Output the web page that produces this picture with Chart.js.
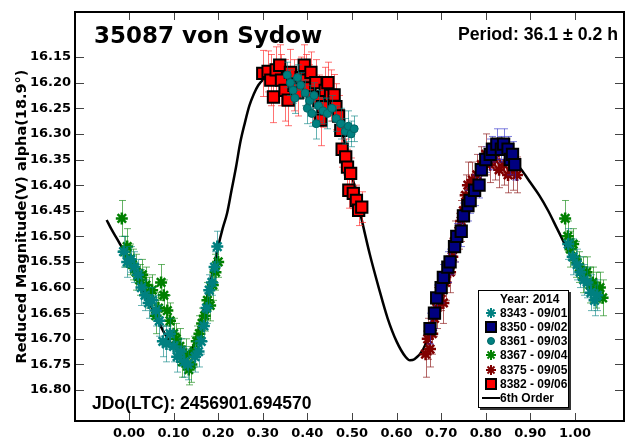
<!DOCTYPE html>
<html>
<head>
<meta charset="utf-8">
<script src="https://cdn.jsdelivr.net/npm/chart.js@4.4.1/dist/chart.umd.min.js"></script>
<style>
  body { margin: 0; background: #fff; }
  #wrap { position: relative; width: 634px; height: 438px; overflow: hidden; }
  #lc { position: absolute; left: 0; top: 0; }
  .note { position: absolute; font-weight: bold; color: #000; line-height: 1; white-space: nowrap; }
  #title { left: 94px; top: 24px; font-family: "DejaVu Sans"; font-size: 23px; }
  #period { right: 16px; top: 26px; font-family: "Liberation Sans"; font-size: 17.7px; }
  #jdo { left: 92px; top: 395px; font-family: "Liberation Sans"; font-size: 17.5px; }
  #legend { position: absolute; left: 478px; top: 290px; width: 89px; height: 116px; background: #fff;
            border: 1px solid #000; box-shadow: 2px 2px 0 #333; font-family: "Liberation Sans"; font-weight: bold; font-size: 12px; }
  #legend .row { position: absolute; left: 0; height: 14px; line-height: 14px; width: 89px; }
  #legend .row span { position: absolute; left: 21px; top: 0; white-space: nowrap; }
  #legend .row svg { position: absolute; left: 5px; top: 1px; }
</style>
</head>
<body>
<div id="wrap">
  <canvas id="lc" width="634" height="438"></canvas>
  <div class="note" id="title">35087 von Sydow</div>
  <div class="note" id="period">Period: 36.1 ± 0.2 h</div>
  <div class="note" id="jdo">JDo(LTC): 2456901.694570</div>
  <div id="legend"></div>
</div>
<script>
// axis ticks
const xTicks = [0.0, 0.1, 0.2, 0.3, 0.4, 0.5, 0.6, 0.7, 0.8, 0.9, 1.0];
const yTicks = [16.15, 16.20, 16.25, 16.30, 16.35, 16.40, 16.45, 16.50, 16.55, 16.60, 16.65, 16.70, 16.75, 16.80];

const legendTitle = 'Year: 2014';
const sessions = ['8343 - 09/01', '8350 - 09/02', '8361 - 09/03', '8367 - 09/04', '8375 - 09/05', '8382 - 09/06'];
const fitLabel = '6th Order';

// 8343 - 09/01
const ph8343 = [-0.012, -0.004, 0.004, 0.012, 0.02, 0.028, 0.036, 0.044, 0.052, 0.06, 0.068, 0.076, 0.084, 0.092, 0.1, 0.108, 0.116, 0.124, 0.132, 0.148, 0.156, 0.162, 0.168, 0.174, 0.18, 0.186, 0.192, 0.198, 0.985, 0.995, 1.005, 1.012, 1.02, 1.028, 1.036, 1.044, 1.05];
const mag8343 = [16.53, 16.55, 16.545, 16.56, 16.575, 16.60, 16.615, 16.63, 16.625, 16.645, 16.665, 16.705, 16.71, 16.69, 16.715, 16.735, 16.725, 16.745, 16.75, 16.735, 16.725, 16.705, 16.675, 16.64, 16.605, 16.59, 16.56, 16.52, 16.515, 16.54, 16.555, 16.57, 16.585, 16.59, 16.61, 16.625, 16.615];
const err8343 = [0.03, 0.03, 0.025, 0.03, 0.03, 0.035, 0.03, 0.03, 0.025, 0.03, 0.03, 0.03, 0.035, 0.03, 0.03, 0.03, 0.025, 0.03, 0.03, 0.03, 0.03, 0.025, 0.03, 0.03, 0.03, 0.025, 0.03, 0.03, 0.03, 0.035, 0.03, 0.03, 0.03, 0.03, 0.035, 0.03, 0.03];

// 8350 - 09/02
const ph8350 = [0.675, 0.685, 0.69, 0.70, 0.705, 0.715, 0.72, 0.73, 0.735, 0.745, 0.75, 0.76, 0.765, 0.775, 0.785, 0.79, 0.80, 0.81, 0.815, 0.825, 0.835, 0.84, 0.85, 0.855, 0.86, 0.865];
const mag8350 = [16.68, 16.65, 16.62, 16.60, 16.58, 16.56, 16.55, 16.52, 16.50, 16.49, 16.46, 16.44, 16.43, 16.41, 16.40, 16.37, 16.35, 16.34, 16.33, 16.32, 16.33, 16.32, 16.33, 16.35, 16.34, 16.36];
const err8350 = [0.03, 0.03, 0.025, 0.03, 0.025, 0.03, 0.025, 0.03, 0.025, 0.03, 0.025, 0.03, 0.025, 0.03, 0.025, 0.03, 0.025, 0.03, 0.025, 0.03, 0.025, 0.03, 0.025, 0.03, 0.025, 0.03];

// 8361 - 09/03
const ph8361 = [0.355, 0.362, 0.368, 0.372, 0.378, 0.385, 0.395, 0.40, 0.405, 0.41, 0.415, 0.42, 0.425, 0.435, 0.445, 0.455, 0.465, 0.475, 0.485, 0.492, 0.498, 0.505];
const mag8361 = [16.185, 16.20, 16.215, 16.23, 16.19, 16.205, 16.22, 16.25, 16.235, 16.26, 16.225, 16.28, 16.245, 16.255, 16.26, 16.25, 16.27, 16.28, 16.295, 16.285, 16.30, 16.29];
const err8361 = [0.025, 0.025, 0.025, 0.03, 0.025, 0.025, 0.025, 0.03, 0.03, 0.025, 0.025, 0.03, 0.03, 0.025, 0.03, 0.025, 0.025, 0.03, 0.025, 0.03, 0.025, 0.025];

// 8367 - 09/04
const ph8367 = [-0.016, -0.01, -0.004, 0.002, 0.008, 0.016, 0.024, 0.03, 0.038, 0.046, 0.052, 0.06, 0.066, 0.072, 0.078, 0.086, 0.092, 0.1, 0.106, 0.114, 0.12, 0.128, 0.134, 0.14, 0.146, 0.152, 0.158, 0.164, 0.17, 0.176, 0.182, 0.188, 0.194, 0.2, 0.978, 0.984, 0.99, 0.996, 1.002, 1.01, 1.018, 1.026, 1.034, 1.04, 1.048, 1.056, 1.062];
const mag8367 = [16.465, 16.53, 16.52, 16.545, 16.555, 16.57, 16.585, 16.575, 16.595, 16.61, 16.605, 16.655, 16.64, 16.59, 16.615, 16.645, 16.665, 16.69, 16.70, 16.715, 16.745, 16.73, 16.76, 16.75, 16.725, 16.705, 16.69, 16.67, 16.655, 16.625, 16.635, 16.595, 16.57, 16.55, 16.465, 16.50, 16.525, 16.515, 16.545, 16.56, 16.575, 16.57, 16.595, 16.59, 16.605, 16.60, 16.62];
const err8367 = [0.035, 0.03, 0.035, 0.03, 0.03, 0.035, 0.03, 0.03, 0.035, 0.03, 0.03, 0.035, 0.03, 0.035, 0.03, 0.03, 0.035, 0.03, 0.03, 0.035, 0.03, 0.03, 0.03, 0.035, 0.03, 0.03, 0.035, 0.03, 0.03, 0.035, 0.03, 0.03, 0.035, 0.03, 0.035, 0.03, 0.035, 0.03, 0.035, 0.03, 0.035, 0.03, 0.035, 0.03, 0.035, 0.03, 0.035];

// 8375 - 09/05
const ph8375 = [0.665, 0.67, 0.675, 0.68, 0.685, 0.69, 0.70, 0.705, 0.71, 0.72, 0.725, 0.73, 0.74, 0.745, 0.75, 0.755, 0.76, 0.77, 0.78, 0.79, 0.80, 0.81, 0.82, 0.83, 0.84, 0.85, 0.86, 0.87];
const mag8375 = [16.73, 16.70, 16.72, 16.69, 16.66, 16.64, 16.61, 16.63, 16.59, 16.57, 16.54, 16.51, 16.49, 16.47, 16.45, 16.42, 16.40, 16.39, 16.38, 16.36, 16.34, 16.36, 16.35, 16.37, 16.36, 16.38, 16.37, 16.38];
const err8375 = [0.045, 0.04, 0.035, 0.04, 0.035, 0.04, 0.035, 0.04, 0.035, 0.04, 0.035, 0.04, 0.035, 0.04, 0.035, 0.04, 0.045, 0.035, 0.04, 0.035, 0.04, 0.035, 0.04, 0.035, 0.04, 0.035, 0.04, 0.035];

// 8382 - 09/06
const ph8382 = [0.300, 0.312, 0.318, 0.324, 0.330, 0.338, 0.342, 0.350, 0.357, 0.362, 0.370, 0.378, 0.386, 0.393, 0.397, 0.403, 0.408, 0.412, 0.419, 0.425, 0.430, 0.434, 0.440, 0.446, 0.452, 0.460, 0.464, 0.470, 0.475, 0.478, 0.486, 0.490, 0.493, 0.497, 0.503, 0.510, 0.515, 0.522];
const mag8382 = [16.182, 16.178, 16.195, 16.228, 16.175, 16.166, 16.195, 16.215, 16.234, 16.180, 16.205, 16.22, 16.19, 16.166, 16.195, 16.21, 16.18, 16.228, 16.20, 16.235, 16.273, 16.247, 16.215, 16.20, 16.225, 16.224, 16.247, 16.265, 16.293, 16.33, 16.345, 16.365, 16.41, 16.377, 16.416, 16.43, 16.449, 16.443];
const err8382 = [0.045, 0.04, 0.05, 0.05, 0.045, 0.04, 0.05, 0.06, 0.05, 0.045, 0.05, 0.045, 0.04, 0.04, 0.05, 0.045, 0.04, 0.05, 0.045, 0.05, 0.05, 0.04, 0.045, 0.04, 0.05, 0.04, 0.045, 0.04, 0.04, 0.035, 0.035, 0.035, 0.035, 0.03, 0.03, 0.03, 0.03, 0.03];

// 6th order fit
const fitPh = [-0.05, -0.04, -0.03, -0.02, -0.01, 0.0, 0.02, 0.04, 0.06, 0.08, 0.10, 0.12, 0.13, 0.14, 0.15, 0.16, 0.17, 0.18, 0.19, 0.20, 0.21, 0.22, 0.23, 0.24, 0.25, 0.26, 0.27, 0.28, 0.29, 0.30, 0.32, 0.34, 0.36, 0.38, 0.40, 0.42, 0.44, 0.46, 0.48, 0.50, 0.52, 0.54, 0.56, 0.58, 0.60, 0.62, 0.63, 0.64, 0.66, 0.68, 0.70, 0.72, 0.74, 0.76, 0.78, 0.80, 0.82, 0.84, 0.86, 0.88, 0.90, 0.92, 0.94, 0.96, 0.98, 1.00, 1.02, 1.04, 1.05];
const fitMag = [16.468, 16.485, 16.50, 16.515, 16.53, 16.55, 16.585, 16.62, 16.655, 16.69, 16.715, 16.73, 16.732, 16.722, 16.70, 16.67, 16.635, 16.60, 16.56, 16.52, 16.485, 16.455, 16.41, 16.365, 16.315, 16.278, 16.245, 16.222, 16.205, 16.195, 16.185, 16.18, 16.182, 16.19, 16.20, 16.215, 16.235, 16.265, 16.305, 16.38, 16.46, 16.535, 16.60, 16.66, 16.705, 16.735, 16.742, 16.74, 16.72, 16.675, 16.615, 16.55, 16.485, 16.43, 16.385, 16.355, 16.34, 16.34, 16.35, 16.37, 16.395, 16.42, 16.45, 16.485, 16.52, 16.555, 16.585, 16.605, 16.615];

function pts(ph, mag) {
  return ph.map((p, i) => ({ x: p, y: mag[i] }));
}

// error bars, drawn just under each dataset's markers
const errorBars = {
  id: 'errorBars',
  beforeDatasetDraw(chart, args) {
    const ds = chart.data.datasets[args.index];
    if (!ds.errors) return;
    const ctx = chart.ctx;
    const xs = chart.scales.x, ys = chart.scales.y;
    ctx.save();
    ctx.strokeStyle = ds.errorColor;
    ctx.lineWidth = 1;
    ds.data.forEach((p, i) => {
      const e = ds.errors[i];
      const px = Math.round(xs.getPixelForValue(p.x)) + 0.5;
      const t = ys.getPixelForValue(p.y - e);
      const b = ys.getPixelForValue(p.y + e);
      ctx.beginPath();
      ctx.moveTo(px, t); ctx.lineTo(px, b);
      ctx.moveTo(px - 3.5, t); ctx.lineTo(px + 3.5, t);
      ctx.moveTo(px - 3.5, b); ctx.lineTo(px + 3.5, b);
      ctx.stroke();
    });
    ctx.restore();
  }
};

// frame with inward ticks on all four sides
const frame = {
  id: 'frame',
  afterDraw(chart) {
    const ctx = chart.ctx;
    const a = chart.chartArea;
    const xs = chart.scales.x, ys = chart.scales.y;
    ctx.save();
    ctx.strokeStyle = '#444';
    ctx.lineWidth = 1;
    ctx.beginPath();
    xTicks.forEach(v => {
      const px = Math.round(xs.getPixelForValue(v)) + 0.5;
      ctx.moveTo(px, a.bottom); ctx.lineTo(px, a.bottom - 8);
      ctx.moveTo(px, a.top); ctx.lineTo(px, a.top + 8);
    });
    yTicks.forEach(v => {
      const py = Math.round(ys.getPixelForValue(v)) + 0.5;
      ctx.moveTo(a.left, py); ctx.lineTo(a.left + 9, py);
      ctx.moveTo(a.right, py); ctx.lineTo(a.right - 9, py);
    });
    ctx.stroke();
    ctx.strokeStyle = '#000';
    ctx.lineWidth = 2;
    ctx.strokeRect(a.left, a.top, a.right - a.left, a.bottom - a.top);
    ctx.restore();
  }
};

const tickFont = { family: 'DejaVu Sans', weight: 'bold', size: 13 };

new Chart(document.getElementById('lc').getContext('2d'), {
  type: 'scatter',
  data: {
    datasets: [
      { label: sessions[0], data: pts(ph8343, mag8343), errors: err8343, errorColor: 'rgba(0,128,128,0.6)',
        pointStyle: 'star', pointRadius: 6, pointBorderWidth: 2.5, pointBorderColor: '#008080', pointBackgroundColor: '#008080' },
      { label: sessions[1], data: pts(ph8350, mag8350), errors: err8350, errorColor: 'rgba(40,40,200,0.6)',
        pointStyle: 'rect', pointRadius: 8, pointBorderWidth: 2, pointBorderColor: '#000', pointBackgroundColor: '#000080' },
      { label: sessions[2], data: pts(ph8361, mag8361), errors: err8361, errorColor: 'rgba(0,128,128,0.6)',
        pointStyle: 'circle', pointRadius: 4, pointBorderWidth: 1, pointBorderColor: '#006666', pointBackgroundColor: '#008080' },
      { label: sessions[3], data: pts(ph8367, mag8367), errors: err8367, errorColor: 'rgba(0,128,0,0.6)',
        pointStyle: 'star', pointRadius: 6, pointBorderWidth: 2.5, pointBorderColor: '#008000', pointBackgroundColor: '#008000' },
      { label: sessions[4], data: pts(ph8375, mag8375), errors: err8375, errorColor: 'rgba(128,0,0,0.6)',
        pointStyle: 'star', pointRadius: 6, pointBorderWidth: 2.5, pointBorderColor: '#800000', pointBackgroundColor: '#800000' },
      { label: sessions[5], data: pts(ph8382, mag8382), errors: err8382, errorColor: 'rgba(255,40,40,0.65)',
        pointStyle: 'rect', pointRadius: 8, pointBorderWidth: 2, pointBorderColor: '#000', pointBackgroundColor: '#ff0000' },
      { label: fitLabel, data: pts(fitPh, fitMag), showLine: true, pointRadius: 0, borderColor: '#000', borderWidth: 2.5,
        cubicInterpolationMode: 'monotone', order: 10 }
    ]
  },
  options: {
    responsive: false,
    animation: false,
    layout: { padding: { top: 12, right: 2, left: 0, bottom: 0 } },
    plugins: { legend: { display: false }, tooltip: { enabled: false } },
    scales: {
      x: {
        type: 'linear', min: -0.121, max: 1.110,
        grid: { display: false, drawTicks: false }, border: { display: false },
        afterBuildTicks: s => { s.ticks = xTicks.map(v => ({ value: v })); },
        afterFit: s => { s.height = 17; },
        ticks: { font: tickFont, color: '#000', padding: 5, maxRotation: 0, autoSkip: false,
                 callback: v => Number(v).toFixed(2) }
      },
      y: {
        type: 'linear', reverse: true, min: 16.062, max: 16.8605,
        grid: { display: false, drawTicks: false }, border: { display: false },
        afterBuildTicks: s => { s.ticks = yTicks.map(v => ({ value: v })); },
        afterFit: s => { s.width = 75; },
        ticks: { font: tickFont, color: '#000', padding: 4, autoSkip: false,
                 callback: v => Number(v).toFixed(2) },
        title: { display: true, text: 'Reduced Magnitude(V) alpha(18.9°)', color: '#000',
                 font: { family: 'DejaVu Sans', weight: 'bold', size: 14.5 }, padding: { top: 14, bottom: 0 } }
      }
    }
  },
  plugins: [errorBars, frame]
});

// legend box
const icons = [
  '<svg width="14" height="12"><g stroke="#008080" stroke-width="2"><line x1="2" y1="6" x2="12" y2="6"/><line x1="7" y1="1" x2="7" y2="11"/><line x1="3.5" y1="2.5" x2="10.5" y2="9.5"/><line x1="3.5" y1="9.5" x2="10.5" y2="2.5"/></g></svg>',
  '<svg width="14" height="12"><rect x="2" y="1" width="10" height="10" fill="#000080" stroke="#000" stroke-width="2"/></svg>',
  '<svg width="14" height="12"><circle cx="7" cy="6" r="3.5" fill="#008080" stroke="#006666"/></svg>',
  '<svg width="14" height="12"><g stroke="#008000" stroke-width="2"><line x1="2" y1="6" x2="12" y2="6"/><line x1="7" y1="1" x2="7" y2="11"/><line x1="3.5" y1="2.5" x2="10.5" y2="9.5"/><line x1="3.5" y1="9.5" x2="10.5" y2="2.5"/></g></svg>',
  '<svg width="14" height="12"><g stroke="#800000" stroke-width="2"><line x1="2" y1="6" x2="12" y2="6"/><line x1="7" y1="1" x2="7" y2="11"/><line x1="3.5" y1="2.5" x2="10.5" y2="9.5"/><line x1="3.5" y1="9.5" x2="10.5" y2="2.5"/></g></svg>',
  '<svg width="14" height="12"><rect x="2" y="1" width="10" height="10" fill="#ff0000" stroke="#000" stroke-width="2"/></svg>'
];
const lg = document.getElementById('legend');
let html = '<div class="row" style="top:1px"><span>' + legendTitle + '</span></div>';
sessions.forEach((s, i) => {
  html += '<div class="row" style="top:' + (1 + 14.1 * (i + 1)).toFixed(1) + 'px">' + icons[i] + '<span>' + s + '</span></div>';
});
html += '<div class="row" style="top:' + (1 + 14.1 * 7).toFixed(1) + 'px"><svg width="18" height="12" style="left:3px"><line x1="0" y1="6" x2="18" y2="6" stroke="#000" stroke-width="2"/></svg><span>' + fitLabel + '</span></div>';
lg.innerHTML = html;
</script>
</body>
</html>
